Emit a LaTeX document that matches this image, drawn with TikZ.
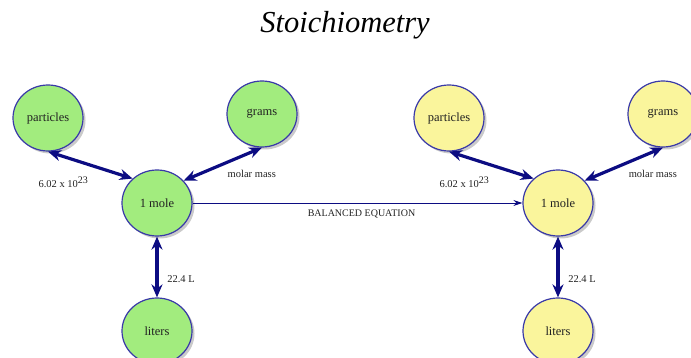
\documentclass[tikz,border=0pt]{standalone}
\usepackage{fontspec}
\setmainfont{Liberation Serif}
\usepackage{tikz}
\usetikzlibrary{shapes.geometric, arrows.meta, shadows}
\usepackage{xcolor}
\definecolor{navy}{HTML}{0C0C82}
\definecolor{rimblue}{HTML}{3A3AA8}
\definecolor{leafgreen}{HTML}{A2EC7E}
\definecolor{paleyellow}{HTML}{FAF59C}
\definecolor{inkgray}{HTML}{222222}
\newcommand{\avog}{6.02 x 10\raisebox{4.5pt}{\fontsize{10}{12}\selectfont 23}}

\begin{document}
\begin{tikzpicture}[x=1pt, y=-1pt,
    blob/.style={ellipse, draw=rimblue, line width=1.2pt, minimum width=70pt, minimum height=66pt, inner sep=0pt,
        font=\fontsize{12.5}{14}\selectfont, text=inkgray,
        drop shadow={shadow xshift=2.5pt, shadow yshift=-2.5pt, fill=black!35, opacity=.6}},
    greenblob/.style={blob, fill=leafgreen},
    yellowblob/.style={blob, fill=paleyellow},
    conv/.style={{Stealth[length=13pt, width=11pt]}-{Stealth[length=13pt, width=11pt]}, navy, line width=3.2pt},
    convlabel/.style={font=\fontsize{10.5}{12}\selectfont, text=inkgray, inner sep=1pt}]
    \useasboundingbox (0,0) rectangle (691,358);

    % Title
    \node[font=\fontsize{30.5}{34}\selectfont\itshape, text=black] (title) at (345,25) {Stoichiometry};

    % Left side
    \node[greenblob] (lpart) at (48,118) {particles};
    \node[greenblob] (lgram) at (262,114) {grams};
    \node[greenblob] (lmole) at (157,203) {1 mole};
    \node[greenblob] (lliter) at (157,331) {liters};

    % Right side
    \node[yellowblob] (rpart) at (449,118) {particles};
    \node[yellowblob] (rgram) at (663,114) {grams};
    \node[yellowblob] (rmole) at (558,203) {1 mole};
    \node[yellowblob] (rliter) at (558,331) {liters};

    % Conversions, left
    \draw[conv] (lpart.south) -- node[convlabel, xshift=-27pt, yshift=-17pt] {\avog} (lmole.135);
    \draw[conv] (lmole.40) -- node[convlabel, xshift=29pt, yshift=-10pt] {molar mass} (lgram.south);
    \draw[conv] (lmole.south) -- node[convlabel, xshift=24pt, yshift=-12pt] {22.4 L} (lliter.north);

    % Conversions, right
    \draw[conv] (rpart.south) -- node[convlabel, xshift=-27pt, yshift=-17pt] {\avog} (rmole.135);
    \draw[conv] (rmole.40) -- node[convlabel, xshift=29pt, yshift=-10pt] {molar mass} (rgram.south);
    \draw[conv] (rmole.south) -- node[convlabel, xshift=24pt, yshift=-12pt] {22.4 L} (rliter.north);

    % Balanced equation
    \draw[-{Stealth[length=9pt, width=6pt]}, navy, line width=0.8pt] (lmole.east) -- node[convlabel, font=\fontsize{10}{12}\selectfont, below=5pt, xshift=4pt] {BALANCED EQUATION} (rmole.west);
\end{tikzpicture}
\end{document}
